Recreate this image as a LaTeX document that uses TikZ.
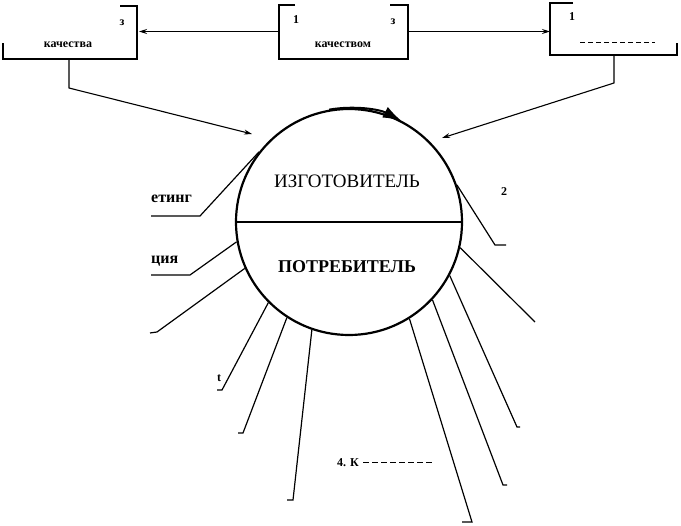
\documentclass[tikz,border=0pt]{standalone}
\usepackage{fontspec}
\setmainfont{Liberation Serif}
\usetikzlibrary{arrows.meta}
\begin{document}
\begin{tikzpicture}[x=1pt,y=-1pt,
  lead/.style={line width=1.2pt},
  boxedge/.style={line width=2.2pt},
  arr/.style={line width=1.1pt,-{Stealth[length=8pt,width=5pt]}},
  lbl/.style={font=\bfseries\fontsize{16}{16}\selectfont, inner sep=0pt, anchor=west},
  small/.style={font=\bfseries\fontsize{12}{12}\selectfont, inner sep=0pt}]
\useasboundingbox (0,0) rectangle (681,526);
% circle
\node[circle, draw, line width=2.2pt, minimum size=226pt, inner sep=0pt] (c) at (349,222) {};
\draw[line width=1.8pt] (c.west) -- (c.east);
\node[font=\fontsize{19}{19}\selectfont] (izg) at (347,181) {ИЗГОТОВИТЕЛЬ};
\node[font=\bfseries\fontsize{18}{18}\selectfont] (potr) at (347,267) {ПОТРЕБИТЕЛЬ};
\draw[line width=2pt, -{Latex[length=19pt,width=12pt]}] (c.100) arc[start angle=100, end angle=62, radius=113pt];
% boxes
\node[minimum width=134pt, minimum height=53pt, inner sep=0pt, outer sep=0pt] (lb) at (70,32.5) {};
\node[minimum width=129pt, minimum height=54pt, inner sep=0pt, outer sep=0pt] (mb) at (343.5,32) {};
\node[minimum width=127pt, minimum height=52pt, inner sep=0pt, outer sep=0pt] (rb) at (613.5,29) {};
\draw[boxedge] ([xshift=-17pt]lb.north east) -- (lb.north east) -- (lb.south east) -- (lb.south west) -- ([yshift=16pt]lb.south west);
\draw[boxedge] ([xshift=16pt]mb.north west) -- (mb.north west) -- (mb.south west) -- (mb.south east) -- (mb.north east) -- ([xshift=-18pt]mb.north east);
\draw[boxedge] ([xshift=23pt]rb.north west) -- (rb.north west) -- (rb.south west) -- (rb.south east) -- ([yshift=12pt]rb.south east);
\node[small] (lz) at (122,23) {з};
\node[small] (lk) at (68,45) {качества};
\node[small] (m1) at (296,20) {1};
\node[small] (mz) at (393,22) {з};
\node[small] (mk) at (343,45) {качеством};
\node[small] (r1) at (572,17) {1};
\coordinate (rd1) at (580,43);
\coordinate (rd2) at (655,43);
\draw[line width=1pt, dash pattern=on 5pt off 3pt] (rd1) -- (rd2);
% top arrows
\coordinate (ay) at (0,31.5);
\draw[arr, shorten >=2pt] (mb.west |- ay) -- (lb.east |- ay);
\draw[arr] (mb.east |- ay) -- (rb.west |- ay);
% box to circle
\coordinate (la) at (69,88);
\coordinate (lt) at (252,134);
\draw[arr, line join=miter] (lb.south -| la) -- (la) -- (lt);
\coordinate (ra) at (614,83);
\coordinate (rt) at (442,138);
\draw[arr, line join=miter] (rb.south -| ra) -- (ra) -- (rt);
% leaders
\coordinate (b1) at (200,216); \coordinate (e1) at (151,216);
\draw[lead] (c.142) -- (b1) -- (e1);
\coordinate (b2) at (190,275); \coordinate (e2) at (151,275);
\draw[lead] (c.190) -- (b2) -- (e2);
\coordinate (b3) at (157,332); \coordinate (e3) at (150,333);
\draw[lead] (c.204) -- (b3) -- (e3);
\coordinate (b4) at (222,390); \coordinate (e4) at (217,390);
\draw[lead] (c.225) -- (b4) -- (e4);
\coordinate (b5) at (243,433); \coordinate (e5) at (238,433);
\draw[lead] (c.237) -- (b5) -- (e5);
\coordinate (b6) at (293,500); \coordinate (e6) at (287,500);
\draw[lead] (c.251) -- (b6) -- (e6);
\coordinate (b7) at (472,522); \coordinate (e7) at (462,522);
\draw[lead] (c.302) -- (b7) -- (e7);
\coordinate (b8) at (503,485); \coordinate (e8) at (507,485);
\draw[lead] (c.317) -- (b8) -- (e8);
\coordinate (b9) at (517,427); \coordinate (e9) at (520,427);
\draw[lead] (c.332) -- (b9) -- (e9);
\coordinate (b10) at (535,322);
\draw[lead] (c.347) -- (b10);
\coordinate (b11) at (495,245); \coordinate (e11) at (506,245);
\draw[lead] (c.19) -- (b11) -- (e11);
% labels
\node[lbl] (t1) at (151,199) {етинг};
\node[lbl] (t2) at (151,261) {ция};
\node[small] (t3) at (219,378) {t};
\node[small] (t4) at (504,192) {2};
\node[small, anchor=west] (t5) at (337,463) {4. К};
\coordinate (d5) at (435,463);
\draw[line width=1pt, dash pattern=on 6pt off 3pt] ([xshift=4pt]t5.east) -- (d5);
\end{tikzpicture}
\end{document}
